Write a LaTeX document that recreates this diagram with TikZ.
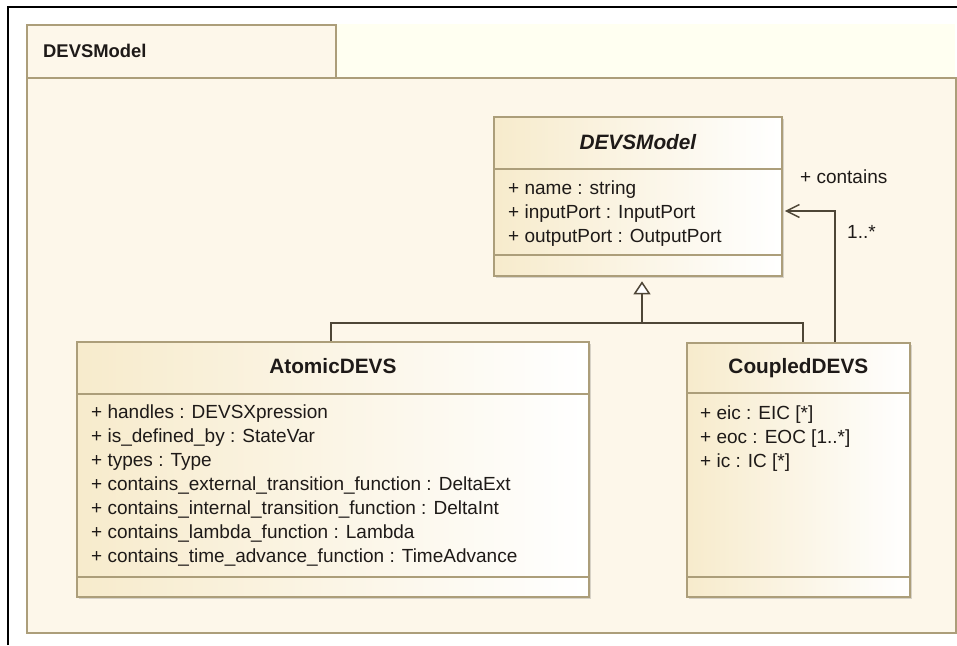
\documentclass[tikz,border=0pt]{standalone}
\usepackage{fontspec}
\setmainfont{Liberation Sans}
\usetikzlibrary{arrows.meta,shadows,calc}
\definecolor{pkgfill}{RGB}{253,247,234}
\definecolor{pkgtop}{RGB}{255,255,241}
\definecolor{tanline}{RGB}{172,158,122}
\definecolor{clsleft}{RGB}{247,235,204}
\definecolor{lnk}{RGB}{78,70,55}
\definecolor{txt}{RGB}{30,26,24}
\begin{document}
\begin{tikzpicture}[x=1pt,y=-1pt,
  pkg/.style={draw=tanline, line width=1.5pt, fill=pkgfill, anchor=north west, inner sep=0pt},
  cls/.style={draw=tanline, line width=1.8pt, left color=clsleft, right color=white, anchor=north west, inner sep=0pt,
    drop shadow={shadow xshift=2pt, shadow yshift=-2pt, fill=black, opacity=0.15}},
  sep/.style={draw=tanline, line width=1.8pt},
  attr/.style={anchor=base west, inner sep=0pt, text=txt, font=\fontsize{19}{23}\selectfont},
  ttl/.style={anchor=base, inner sep=0pt, text=txt, font=\fontsize{20.8}{25}\selectfont\bfseries},
  conn/.style={draw=lnk, line width=1.5pt},
]
\useasboundingbox (0,0) rectangle (957,645);
% outer frame
\draw[line width=2pt, black] (8,645) -- (8,7) -- (957,7);
% package
\fill[pkgtop] (335,24) rectangle (955,77);
\node[pkg, minimum width=929pt, minimum height=555pt] (pkgbody) at (26,77) {};
\node[pkg, minimum width=309pt, minimum height=53pt] (pkgtab) at (26,24) {};
\node[anchor=base west, inner sep=0pt, text=txt, font=\fontsize{18.4}{22}\selectfont\bfseries] (pkglabel) at (43,57) {DEVSModel};

% DEVSModel class
\node[cls, minimum width=288pt, minimum height=159pt] (devs) at (493,116) {};
\draw[sep] (devs.west |- 0,169) -- (devs.east |- 0,169);
\draw[sep] (devs.west |- 0,255) -- (devs.east |- 0,255);
\node[ttl] (devsT) at (devs.north |- 0,149) {\itshape DEVSModel};
\node[attr] (d1) at (508,194) {+ name : string};
\node[attr] (d2) at (508,218) {+ inputPort : InputPort};
\node[attr] (d3) at (508,242) {+ outputPort : OutputPort};

% AtomicDEVS class
\node[cls, minimum width=512pt, minimum height=255pt] (atomic) at (76,341) {};
\draw[sep] (atomic.west |- 0,394) -- (atomic.east |- 0,394);
\draw[sep] (atomic.west |- 0,577) -- (atomic.east |- 0,577);
\node[ttl] (atomicT) at (atomic.north |- 0,373) {AtomicDEVS};
\node[attr] (a1) at (91,418) {+ handles : DEVSXpression};
\node[attr] (a2) at (91,442) {+ is\_defined\_by : StateVar};
\node[attr] (a3) at (91,466) {+ types : Type};
\node[attr] (a4) at (91,490) {+ contains\_external\_transition\_function : DeltaExt};
\node[attr] (a5) at (91,514) {+ contains\_internal\_transition\_function : DeltaInt};
\node[attr] (a6) at (91,538) {+ contains\_lambda\_function : Lambda};
\node[attr] (a7) at (91,562) {+ contains\_time\_advance\_function : TimeAdvance};

% CoupledDEVS class
\node[cls, minimum width=223pt, minimum height=254pt] (coupled) at (686,342) {};
\draw[sep] (coupled.west |- 0,393) -- (coupled.east |- 0,393);
\draw[sep] (coupled.west |- 0,577) -- (coupled.east |- 0,577);
\node[ttl] (coupledT) at (coupled.north |- 0,373) {CoupledDEVS};
\node[attr] (c1) at (700,419) {+ eic : EIC [*]};
\node[attr] (c2) at (700,443) {+ eoc : EOC [1..*]};
\node[attr] (c3) at (700,467) {+ ic : IC [*]};

% generalization
\coordinate (gj) at (642,323);
\draw[conn] ([xshift=-2pt]atomic.north) -- ([xshift=-2pt]atomic.north |- gj) -- ([xshift=4.5pt]coupled.north |- gj) -- ([xshift=4.5pt]coupled.north);
\draw[conn, -{Triangle[open, fill=white, length=13pt, width=17pt]}, shorten >=4.5pt] (gj) -- (gj |- devs.south);

% association
\draw[conn, -{Straight Barb[length=13pt, width=13pt]}, shorten >=2pt] ([xshift=36.5pt]coupled.north) |- (devs.east |- 0,211);
\node[attr] (role) at (800,183) {+ contains};
\node[attr] (mult) at (847,238) {1..*};
\end{tikzpicture}
\end{document}
